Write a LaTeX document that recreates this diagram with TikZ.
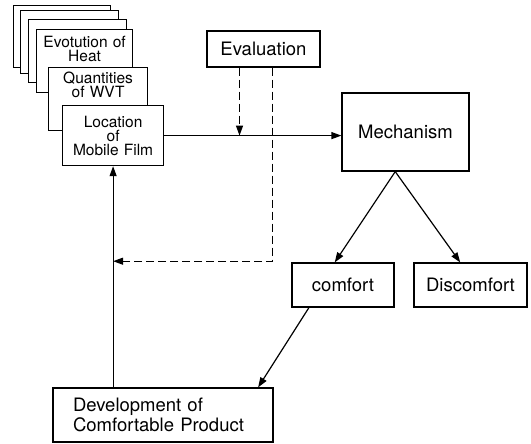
\documentclass[tikz,border=0pt]{standalone}
\usepackage{fontspec}
\setmainfont{TeX Gyre Heros}
\usetikzlibrary{arrows.meta, positioning, calc}

\newcommand{\cardfont}{\fontsize{15.5}{14}\selectfont}
\newcommand{\boxfont}{\fontsize{18.5}{20}\selectfont}

\begin{document}
\begin{tikzpicture}[x=1pt, y=-1pt, >={Triangle[length=10pt, width=7pt]}, line width=1.2pt,
  card/.style={draw, fill=white, anchor=north west, inner sep=0pt, align=center, font=\cardfont},
  mainbox/.style={draw, align=center, inner sep=0pt, font=\boxfont},
  flow/.style={->},
  feedback/.style={->, dash pattern=on 8pt off 4pt}]

\useasboundingbox (0,0) rectangle (531,444);

% Stacked cards, back to front
\node[card, minimum width=97pt, minimum height=62pt] (back1) at (13,5) {};
\node[card, minimum width=98pt, minimum height=63pt] (back2) at (20,10) {};
\node[card, minimum width=98pt, minimum height=63pt] (back3) at (28,19) {};
\node[card, text width=96pt, text height=18pt, text depth=45pt] (heat) at (36,29)
  {Evotution of\\Heat};
\node[card, text width=99pt, text height=16pt, text depth=47pt] (qty) at (48,67)
  {Quantities\\of WVT};
\node[card, text width=101pt, minimum height=60pt] (loc) at (62,105)
  {Location\\of\\Mobile Film};

% Main boxes
\node[mainbox, minimum width=113pt, minimum height=36pt] (eval) at (263.5,49) {Evaluation};
\node[mainbox, minimum width=127pt, minimum height=78pt] (mech) at (405.5,132) {Mechanism};
\node[mainbox, minimum width=102pt, minimum height=44pt] (comf) at (343,285) {comfort};
\node[mainbox, minimum width=113pt, minimum height=44pt] (disc) at (470.5,285) {Discomfort};
\node[mainbox, align=left, inner xsep=20pt, text width=180pt, minimum height=54pt] (dev) at (163,415)
  {Development of\\Comfortable Product};

% Forward flow
\draw[flow] (loc.east) -- (loc.east -| mech.west);
\coordinate (apex) at ($(mech.south west)!0.42!(mech.south east)$);
\draw[flow] (apex) -- ($(comf.north west)!0.42!(comf.north east)$);
\draw[flow] (apex) -- ($(disc.north west)!0.41!(disc.north east)$);
\draw[flow] ($(comf.south west)!0.17!(comf.south east)$) -- ($(dev.north west)!0.93!(dev.north east)$);
\draw[flow] (dev.north -| loc.south) -- (loc.south);

% Evaluation (dashed)
\coordinate (evin) at ($(eval.south west)!0.29!(eval.south east)$);
\coordinate (evout) at ($(eval.south west)!0.58!(eval.south east)$);
\coordinate (fb) at ($(loc.south)+(0,95)$);
\draw[feedback] (evin) -- (evin |- loc.east);
\draw[feedback] (evout) |- (fb);

\end{tikzpicture}
\end{document}
